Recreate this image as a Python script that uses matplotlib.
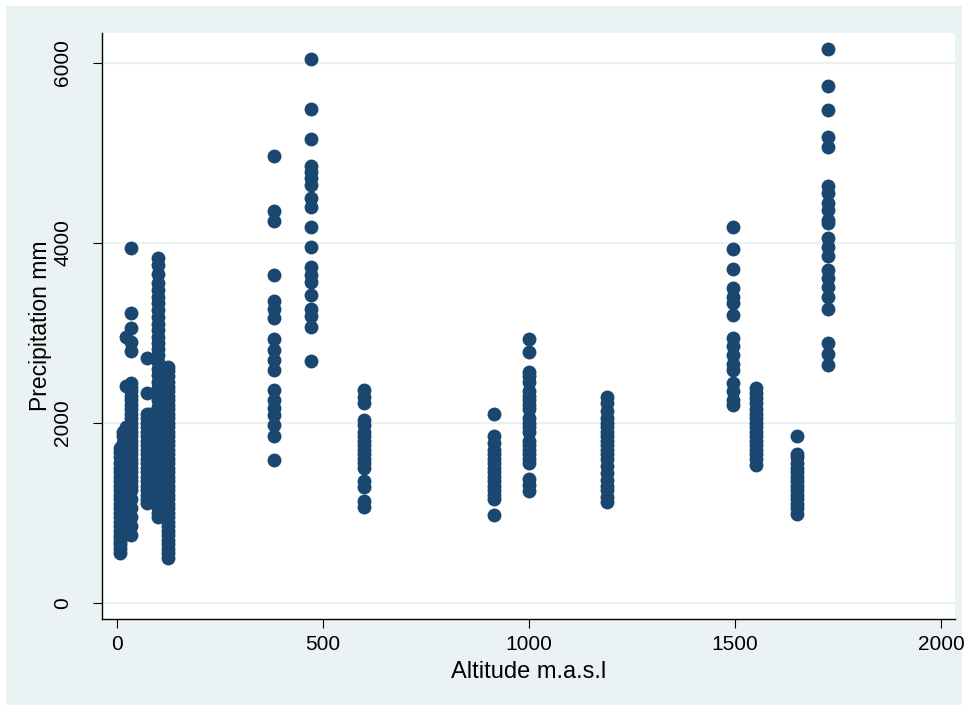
import numpy as np
import matplotlib.pyplot as plt
from matplotlib.patches import Rectangle

plt.rcParams['font.family'] = ['Liberation Sans Narrow', 'Liberation Sans', 'DejaVu Sans']

# altitude (m.a.s.l) of each station group and its precipitation readings (mm)
alt_8 = 8
prec_8 = [1720, 1680, 1620, 1560, 1500, 1450, 1400, 1350, 1300, 1250, 1200, 1150,
          1100, 1050, 1000, 950, 900, 850, 800, 760, 720, 680, 640, 600, 550]
alt_15 = 15
prec_15 = [1900, 1850, 1780, 1700, 1600, 1520, 1420, 1300, 1200, 1100, 1000, 900, 800, 750]
alt_22 = 22
prec_22 = [2950, 2410, 1950, 1650, 1300]
alt_35 = 35
prec_35 = [3940, 3220, 3050, 2900, 2800, 2440, 2400, 2350, 2300, 2250, 2200, 2150,
           2100, 2050, 2000, 1950, 1900, 1850, 1800, 1750, 1700, 1650, 1600, 1550,
           1500, 1450, 1400, 1350, 1300, 1250, 1150, 1050, 950, 850, 760]
alt_72 = 72
prec_72 = [2720, 2330, 2100, 2050, 2000, 1950, 1900, 1850, 1800, 1750, 1700, 1650,
           1600, 1550, 1500, 1450, 1400, 1350, 1300, 1250, 1200, 1150, 1110]
alt_80 = 80
prec_80 = [2100, 1900, 1700, 1500, 1300, 1150]
alt_100 = 100
prec_100 = [3830, 3750, 3650, 3550, 3480, 3400, 3330, 3250, 3180, 3100, 3030, 2960,
            2890, 2820, 2750, 2680, 2600, 2530, 2460, 2390, 2320, 2250, 2180, 2100,
            2050, 2000, 1950, 1900, 1850, 1800, 1750, 1700, 1650, 1600, 1550, 1500,
            1450, 1400, 1350, 1300, 1250, 1200, 1150, 1100, 1050, 1000, 950]
alt_110 = 110
prec_110 = [2500, 2400, 2300, 2000, 1800, 1600, 1370, 1200]
alt_124 = 124
prec_124 = [2620, 2580, 2520, 2450, 2400, 2350, 2300, 2250, 2200, 2150, 2100, 2050,
            2000, 1950, 1900, 1850, 1800, 1750, 1700, 1650, 1600, 1550, 1500, 1450,
            1400, 1350, 1300, 1250, 1200, 1150, 1100, 1050, 1000, 950, 900, 850,
            800, 750, 700, 650, 600, 550, 500]
alt_380 = 380
prec_380 = [4970, 4360, 4240, 3640, 3350, 3270, 3170, 2930, 2810, 2700, 2590, 2370,
            2260, 2170, 2090, 1980, 1850, 1590]
alt_470 = 470
prec_470 = [6040, 5490, 5160, 4860, 4790, 4720, 4640, 4500, 4400, 4180, 3950, 3730,
            3640, 3570, 3420, 3270, 3190, 3070, 2690]
alt_600 = 600
prec_600 = [2370, 2290, 2220, 2030, 1980, 1900, 1850, 1800, 1750, 1700, 1650, 1600,
            1550, 1500, 1350, 1290, 1130, 1070]
alt_915 = 915
prec_915 = [2100, 1850, 1780, 1700, 1650, 1600, 1550, 1500, 1450, 1400, 1350, 1300,
            1250, 1200, 1150, 980]
alt_1000 = 1000
prec_1000 = [2930, 2790, 2570, 2520, 2450, 2350, 2300, 2250, 2200, 2150, 2050, 2000,
             1950, 1900, 1800, 1750, 1700, 1650, 1600, 1550, 1380, 1310, 1240]
alt_1190 = 1190
prec_1190 = [2290, 2220, 2130, 2050, 2000, 1950, 1900, 1850, 1800, 1750, 1700, 1650,
             1600, 1520, 1440, 1370, 1300, 1260, 1180, 1120]
alt_1495 = 1495
prec_1495 = [4180, 3930, 3710, 3500, 3400, 3330, 3200, 2940, 2850, 2760, 2660, 2590,
             2440, 2350, 2260, 2200]
alt_1550 = 1550
prec_1550 = [2390, 2330, 2280, 2220, 2150, 2100, 2050, 2000, 1950, 1900, 1850, 1800,
             1750, 1700, 1650, 1600, 1530]
alt_1650 = 1650
prec_1650 = [1850, 1660, 1620, 1560, 1500, 1450, 1400, 1350, 1300, 1250, 1200, 1150,
             1100, 1050, 990]
alt_1725 = 1725
prec_1725 = [6160, 5740, 5480, 5180, 5070, 4630, 4550, 4440, 4370, 4260, 4220, 4050,
             3960, 3850, 3700, 3610, 3510, 3400, 3270, 2890, 2770, 2640]

groups = [(alt_8, prec_8), (alt_15, prec_15), (alt_22, prec_22), (alt_35, prec_35),
          (alt_72, prec_72), (alt_80, prec_80), (alt_100, prec_100), (alt_110, prec_110),
          (alt_124, prec_124), (alt_380, prec_380), (alt_470, prec_470), (alt_600, prec_600),
          (alt_915, prec_915), (alt_1000, prec_1000), (alt_1190, prec_1190),
          (alt_1495, prec_1495), (alt_1550, prec_1550), (alt_1650, prec_1650),
          (alt_1725, prec_1725)]

x = []
y = []
for a, p in groups:
    x += [a] * len(p)
    y += p

W, H = 967, 711
fig = plt.figure(figsize=(W / 100, H / 100), dpi=100, facecolor='white')
bg = Rectangle((6 / W, 6 / H), (962 - 6) / W, (705 - 6) / H,
               transform=fig.transFigure, facecolor='#eaf2f3', edgecolor='none')
bg.set_zorder(-10)
fig.add_artist(bg)

ax = fig.add_axes([102 / W, (H - 619) / H, (955 - 102) / W, (619 - 33) / H])
ax.set_zorder(1)
ax.set_facecolor('white')
ax.scatter(x, y, s=100, color='#1a476f', linewidths=0, zorder=3)

ax.set_xlim(-36.4, 2034)
ax.set_ylim(-178, 6333)
ax.set_xticks([0, 500, 1000, 1500, 2000])
ax.set_yticks([0, 2000, 4000, 6000])
ax.yaxis.grid(True, color='#eaf2f3', linewidth=1.6)
ax.set_axisbelow(True)
for s in ['top', 'right']:
    ax.spines[s].set_visible(False)
for s in ['left', 'bottom']:
    ax.spines[s].set_linewidth(1.0)
ax.tick_params(axis='both', length=6.5, width=0.8, labelsize=15)
ax.tick_params(axis='x', pad=5)
ax.tick_params(axis='y', pad=15)
plt.setp(ax.get_yticklabels(), rotation=90, va='center')
ax.set_xlabel('Altitude m.a.s.l', fontsize=17, labelpad=5)
ax.set_ylabel('Precipitation mm', fontsize=16.5, labelpad=1)

fig.savefig('out.png', dpi=100)
